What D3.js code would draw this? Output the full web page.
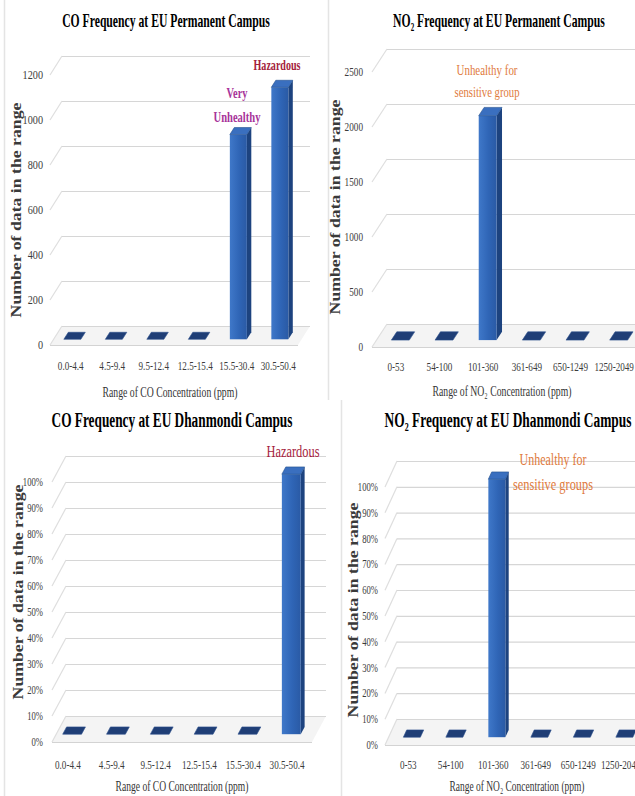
<!DOCTYPE html>
<html>
<head>
<meta charset="utf-8">
<script src="https://cdn.jsdelivr.net/npm/d3@7"></script>
<style>
  html, body { margin: 0; padding: 0; background: #fff; }
  svg { display: block; font-family: "Liberation Serif", "DejaVu Serif", "Times New Roman", serif; }
</style>
</head>
<body>
<svg id="chart" width="635" height="796"></svg>
<script>
// ---- data ----
const coCategories  = ["0.0-4.4", "4.5-9.4", "9.5-12.4", "12.5-15.4", "15.5-30.4", "30.5-50.4"];
const no2Categories = ["0-53", "54-100", "101-360", "361-649", "650-1249", "1250-2049"];

const coPermanentCounts  = [0, 0, 0, 0, 910, 1120];
const no2PermanentCounts = [0, 0, 2040, 0, 0, 0];
const coDhanmondiShare   = [0, 0, 0, 0, 0, 100];
const no2DhanmondiShare  = [0, 0, 100, 0, 0, 0];

const coPermanentTicks  = [0, 200, 400, 600, 800, 1000, 1200];
const no2PermanentTicks = [0, 500, 1000, 1500, 2000, 2500];
const shareTicks        = [0, 10, 20, 30, 40, 50, 60, 70, 80, 90, 100];

const yAxisTitle = "Number of data in the range";

// ---- drawing ----
const svg = d3.select("#chart");
const defs = svg.append("defs");

const frontGrad = defs.append("linearGradient").attr("id", "barFront")
  .attr("x1", 0).attr("x2", 1).attr("y1", 0).attr("y2", 0);
frontGrad.append("stop").attr("offset", "0%").attr("stop-color", "#3f78c9");
frontGrad.append("stop").attr("offset", "55%").attr("stop-color", "#2f65b6");
frontGrad.append("stop").attr("offset", "100%").attr("stop-color", "#2a5aa5");

// panel frames
[[4.5, 0, 400], [4.5, 400, 796], [328.5, 0, 400], [341.5, 400, 796]].forEach(([x, y1, y2]) => {
  svg.append("line").attr("x1", x).attr("x2", x).attr("y1", y1).attr("y2", y2)
    .attr("stroke", "#e4e4e4").attr("stroke-width", 1.5);
});

// Text narrowed horizontally to a target width (the serif face is set condensed).
function fitText(g, txt, x, y, o) {
  const t = g.append("text")
    .attr("text-anchor", o.anchor || "middle")
    .attr("font-size", o.size)
    .attr("font-weight", o.bold ? "bold" : "normal")
    .attr("fill", o.color || "#000")
    .text(txt);
  const natural = t.node().getComputedTextLength();
  const s = o.length ? o.length / natural : 1;
  t.attr("transform", `translate(${x},${y})${o.rotate ? ` rotate(${o.rotate})` : ""} scale(${s},1)`);
  return t;
}

function squeezed(g, txt, x, y, size, sx, anchor, color) {
  g.append("text")
    .attr("transform", `translate(${x},${y}) scale(${sx},1)`)
    .attr("text-anchor", anchor)
    .attr("font-size", size)
    .attr("fill", color)
    .text(txt);
}

function drawPanel(cfg) {
  const g = svg.append("g");
  const x = d3.scaleBand().domain(cfg.categories).range(cfg.xRange).padding(0);
  const y = d3.scaleLinear().domain([0, cfg.max]).range(cfg.yRange);
  const { ddx, ddy, z0, z1 } = cfg;
  const P = (px, v, z) => [px + z * ddx, y(v) + z * ddy];
  const poly = pts => pts.map(p => p.join(",")).join(" ");

  // floor
  g.append("polygon")
    .attr("points", poly([P(cfg.wall[0], 0, 0), P(cfg.wall[1], 0, 0), P(cfg.wall[1], 0, 1), P(cfg.wall[0], 0, 1)]))
    .attr("fill", "#f4f4f4");
  g.append("line")
    .attr("x1", cfg.wall[0]).attr("x2", cfg.wall[1]).attr("y1", y(0) + 0.5).attr("y2", y(0) + 0.5)
    .attr("stroke", "#d3d3d3");

  // gridlines: back wall and side wall
  cfg.ticks.forEach(v => {
    const a = P(cfg.wall[0], v, 0), b = P(cfg.wall[0], v, 1), c = P(cfg.wall[1], v, 1);
    g.append("line").attr("x1", a[0]).attr("y1", a[1]).attr("x2", b[0]).attr("y2", b[1])
      .attr("stroke", "#dedede").attr("stroke-width", 1.2);
    g.append("line").attr("x1", b[0]).attr("y1", b[1] + 0.5).attr("x2", c[0]).attr("y2", c[1] + 0.5)
      .attr("stroke", "#d6d6d6").attr("stroke-width", 1.2);
  });

  // columns
  const half = x.step() * cfg.barFrac / 2;
  cfg.values.forEach((v, i) => {
    const c = x(cfg.categories[i]) + x.bandwidth() / 2;
    const xl = c - half, xr = c + half;
    if (v > 0) {
      g.append("polygon")
        .attr("points", poly([P(xr, 0, z0), P(xr, 0, z1), P(xr, v, z1), P(xr, v, z0)]))
        .attr("fill", "#1d437f");
      const tl = P(xl, v, z0), br = P(xr, 0, z0);
      g.append("rect")
        .attr("x", tl[0]).attr("y", tl[1]).attr("width", br[0] - tl[0]).attr("height", br[1] - tl[1])
        .attr("fill", "url(#barFront)");
      g.append("polygon")
        .attr("points", poly([P(xl, v, z0), P(xr, v, z0), P(xr, v, z1), P(xl, v, z1)]))
        .attr("fill", "#3a6fbf").attr("stroke", "#24508f").attr("stroke-width", 0.6);
    } else {
      g.append("polygon")
        .attr("points", poly([P(xl, 0, z0), P(xr, 0, z0), P(xr, 0, z1), P(xl, 0, z1)]))
        .attr("fill", "#1f3e76").attr("stroke", "#2c4f8c").attr("stroke-width", 0.6);
    }
  });

  // value ticks
  cfg.ticks.forEach(v => {
    squeezed(g, cfg.tickFormat(v), cfg.wall[0] - cfg.tickGap, y(v) + 4, cfg.tickSize, cfg.tickSx, "end", "#3c3c3c");
  });

  // category labels
  cfg.categories.forEach(cat => {
    squeezed(g, cat, x(cat) + x.bandwidth() / 2 + cfg.labelShift, cfg.catY, 12.5, 0.73, "middle", "#3c3c3c");
  });

  // titles
  fitText(g, cfg.title, cfg.titlePos[0], cfg.titlePos[1], { size: cfg.titleSize, bold: true, length: cfg.titleLen });
  fitText(g, cfg.xTitle, cfg.xTitlePos[0], cfg.xTitlePos[1], { size: 14, color: "#333", length: cfg.xTitleLen });
  fitText(g, yAxisTitle, cfg.yTitlePos[0], cfg.yTitlePos[1], { size: 14, bold: true, color: "#3a3a3a", rotate: -90, length: 215 });

  // air-quality notes
  cfg.notes.forEach(n => {
    fitText(g, n.text, n.x, n.y, { size: n.size, bold: n.bold, color: n.color, length: n.len });
  });
}

const countFmt = d3.format("d");
const pctFmt = v => v + "%";

drawPanel({
  categories: coCategories, values: coPermanentCounts, ticks: coPermanentTicks, max: 1200,
  xRange: [48, 297], yRange: [345, 75], wall: [50, 298], ddx: 12, ddy: -19, z0: 0.3, z1: 0.67, barFrac: 0.41,
  tickFormat: countFmt, tickGap: 7, tickSize: 12, tickSx: 0.85, catY: 370, labelShift: 2,
  title: "CO Frequency at EU Permanent Campus", titlePos: [166, 27], titleSize: 18, titleLen: 208,
  xTitle: "Range of CO Concentration (ppm)", xTitlePos: [170, 397], xTitleLen: 135,
  yTitlePos: [21, 210],
  notes: [
    { text: "Hazardous", x: 277, y: 70, size: 15, bold: true, color: "#a3213b", len: 47 },
    { text: "Very", x: 237, y: 98, size: 15, bold: true, color: "#a8349a", len: 21 },
    { text: "Unhealthy", x: 237, y: 122, size: 15, bold: true, color: "#a8349a", len: 47 }
  ]
});

drawPanel({
  categories: no2Categories, values: no2PermanentCounts, ticks: no2PermanentTicks, max: 2500,
  xRange: [374, 636], yRange: [347, 72], wall: [372, 660], ddx: 15, ddy: -23, z0: 0.3, z1: 0.66, barFrac: 0.41,
  tickFormat: countFmt, tickGap: 9, tickSize: 11.5, tickSx: 0.8, catY: 371, labelShift: 0,
  title: "NO\u2082 Frequency at EU Permanent Campus", titlePos: [499, 27], titleSize: 18, titleLen: 212,
  xTitle: "Range of NO\u2082 Concentration (ppm)", xTitlePos: [502, 396], xTitleLen: 139,
  yTitlePos: [340, 207],
  notes: [
    { text: "Unhealthy for", x: 487, y: 75, size: 15, bold: false, color: "#e07a3c", len: 61 },
    { text: "sensitive group", x: 487, y: 97, size: 15, bold: false, color: "#e07a3c", len: 65 }
  ]
});

drawPanel({
  categories: coCategories, values: coDhanmondiShare, ticks: shareTicks, max: 100,
  xRange: [46, 309], yRange: [742, 482], wall: [52, 312], ddx: 14, ddy: -26, z0: 0.3, z1: 0.58, barFrac: 0.43,
  tickFormat: pctFmt, tickGap: 9, tickSize: 12, tickSx: 0.72, catY: 769, labelShift: 0,
  title: "CO Frequency at EU Dhanmondi Campus", titlePos: [172, 427], titleSize: 21, titleLen: 241,
  xTitle: "Range of CO Concentration (ppm)", xTitlePos: [182, 791], xTitleLen: 133,
  yTitlePos: [23, 592],
  notes: [
    { text: "Hazardous", x: 293, y: 457, size: 17, bold: false, color: "#a51d3d", len: 53 }
  ]
});

drawPanel({
  categories: no2Categories, values: no2DhanmondiShare, ticks: shareTicks, max: 100,
  xRange: [387, 642], yRange: [745, 487], wall: [385, 660], ddx: 12, ddy: -26, z0: 0.3, z1: 0.58, barFrac: 0.4,
  tickFormat: pctFmt, tickGap: 7, tickSize: 12, tickSx: 0.72, catY: 769, labelShift: 0,
  title: "NO\u2082 Frequency at EU Dhanmondi Campus", titlePos: [508, 427], titleSize: 21, titleLen: 247,
  xTitle: "Range of NO\u2082 Concentration (ppm)", xTitlePos: [517, 791], xTitleLen: 135,
  yTitlePos: [358, 610],
  notes: [
    { text: "Unhealthy for", x: 553, y: 465, size: 17, bold: false, color: "#e07a3c", len: 67 },
    { text: "sensitive groups", x: 553, y: 490, size: 17, bold: false, color: "#e07a3c", len: 80 }
  ]
});
</script>
</body>
</html>
